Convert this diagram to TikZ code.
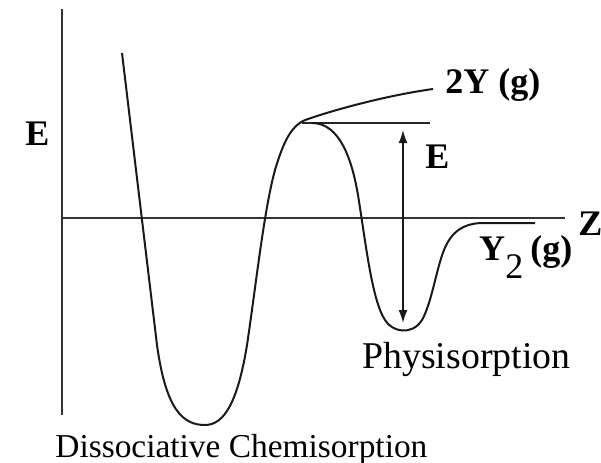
\documentclass[tikz,border=0pt]{standalone}
\usepackage{fontspec}
\setmainfont{Liberation Serif}
\usetikzlibrary{arrows.meta}
\tikzset{
  axis/.style   = {line width=1.3pt, black!80},
  curve/.style  = {line width=1pt, black!90},
  lvl/.style    = {line width=1pt, black!85},
  earrow/.style = {line width=0.8pt, black!90,
                   {Latex[length=6.5pt,width=4.5pt]}-{Latex[length=6.5pt,width=4.5pt]}},
  blbl/.style   = {font=\fontsize{18}{18}\selectfont\bfseries, inner sep=0pt,
                   anchor=base west},
  rlbl/.style   = {font=\fontsize{18}{18}\selectfont, inner sep=0pt,
                   anchor=base west},
}

\begin{document}
\begin{tikzpicture}[x=0.5pt, y=-0.5pt]
  \useasboundingbox (0,0) rectangle (601,462);
  \coordinate (ytop) at (62,9);
  \coordinate (ybot) at (62,415);
  \coordinate (o) at (62,218);
  \coordinate (xend) at (565,218);
  \draw[axis] (ytop) -- (ybot);
  \draw[axis] (o) -- (xend);
  \node[blbl] (elab) at (25,145) {E};
  \node[blbl] (zlab) at (578,235) {Z};
  \draw[curve] (122,53) -- (157,345)
    .. controls (166,410) and (183,425) .. (205,425)
    .. controls (225,425) and (238,400) .. (247,345)
    .. controls (256,285) and (264,210) .. (275,170)
    .. controls (284,140) and (292,124) .. (308,119)
    .. controls (340,108) and (390,95) .. (433,89);
  \coordinate (peak) at (302,123);
  \coordinate (lvlend) at (430,123);
  \draw[lvl] (peak) -- (lvlend);
  \draw[curve] (312,123) .. controls (340,123) and (352,160) .. (358,195)
    .. controls (366,245) and (372,300) .. (385,320)
    .. controls (392,332) and (412,336) .. (422,320)
    .. controls (432,302) and (436,270) .. (444,250)
    .. controls (452,230) and (465,224) .. (480,223) -- (535,223);
  \coordinate (etop) at (403,130);
  \coordinate (ebot) at (403,323);
  \draw[earrow] (ebot) -- (etop);
  \node[blbl] (twoy) at (445,93) {2Y (g)};
  \node[blbl] (ea) at (425,168) {E};
  \node[blbl, anchor=base] (y2) at (492,260) {Y};
  \node[rlbl] (y2sub) at (505,278) {2};
  \node[blbl] (y2g) at (530,260) {(g)};
  \node[rlbl, font=\fontsize{18.9}{19}\selectfont] (phys) at (362,368) {Physisorption};
  \node[rlbl, font=\fontsize{16.7}{17}\selectfont] (chem) at (55,457) {Dissociative Chemisorption};
\end{tikzpicture}
\end{document}
